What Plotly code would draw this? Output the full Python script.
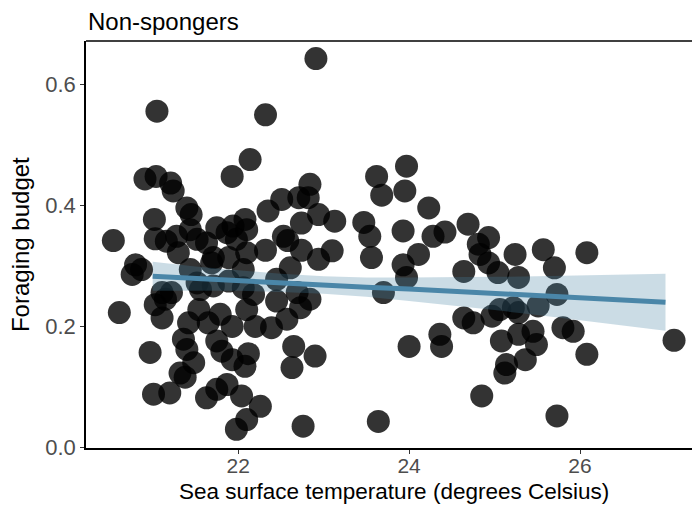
import plotly.graph_objects as go

# Sea surface temperature (x) and foraging budget (y) for non-spongers
sst = [22.91, 21.05, 22.32, 22.14, 23.97, 20.91, 21.04, 21.93, 23.62, 21.21,
       22.84, 21.24, 23.95, 23.68, 22.51, 22.71, 22.82, 21.40, 21.45, 22.35,
       24.23, 22.94, 21.02, 22.08, 23.13, 22.74, 23.47, 24.69, 21.44, 21.75,
       21.94, 21.87, 22.10, 23.93, 24.42, 20.54, 21.03, 21.16, 21.28, 21.52,
       21.63, 21.98, 22.53, 22.58, 23.54, 24.28, 24.93, 22.32, 24.81, 24.11,
       25.24, 25.57, 26.08, 22.10, 22.74, 22.94, 23.10, 23.56, 24.83, 24.93,
       23.93, 25.70, 24.64, 25.04, 25.28, 23.97, 25.73, 25.51, 23.70, 24.00,
       24.36, 24.38, 24.64, 24.75, 24.97, 25.06, 25.22, 25.28, 25.08, 25.28,
       25.45, 25.49, 25.36, 25.14, 25.12, 24.85, 25.73, 25.80, 25.92, 26.08,
       27.10, 23.64, 22.76, 20.80, 20.76, 20.87, 20.61, 20.97, 21.01, 21.20,
       21.11, 21.22, 21.03, 21.11, 21.44, 21.69, 21.52, 21.56, 21.71, 21.89,
       22.06, 22.06, 21.54, 21.42, 21.36, 21.40, 21.48, 21.32, 21.65, 21.79,
       21.93, 21.75, 21.81, 21.93, 22.08, 21.87, 21.75, 21.63, 22.04, 21.98,
       22.10, 22.10, 22.61, 22.45, 22.18, 22.45, 22.69, 22.84, 22.73, 22.57,
       22.39, 22.20, 22.65, 22.90, 22.63, 22.12, 22.26, 21.30, 21.71, 21.89,
       21.15, 21.38]
budget = [0.643, 0.556, 0.550, 0.476, 0.465, 0.444, 0.448, 0.448, 0.448, 0.437,
          0.435, 0.424, 0.424, 0.417, 0.410, 0.413, 0.413, 0.396, 0.385, 0.391,
          0.396, 0.385, 0.377, 0.377, 0.374, 0.371, 0.372, 0.369, 0.360, 0.363,
          0.366, 0.355, 0.360, 0.358, 0.356, 0.342, 0.345, 0.341, 0.349, 0.344,
          0.338, 0.344, 0.349, 0.342, 0.349, 0.349, 0.347, 0.326, 0.336, 0.319,
          0.319, 0.327, 0.322, 0.322, 0.326, 0.311, 0.325, 0.314, 0.319, 0.305,
          0.302, 0.297, 0.291, 0.289, 0.281, 0.281, 0.253, 0.234, 0.256, 0.167,
          0.187, 0.167, 0.214, 0.206, 0.217, 0.228, 0.231, 0.223, 0.176, 0.187,
          0.192, 0.170, 0.145, 0.137, 0.123, 0.085, 0.052, 0.198, 0.192, 0.154,
          0.177, 0.043, 0.035, 0.302, 0.286, 0.294, 0.223, 0.157, 0.088, 0.090,
          0.256, 0.256, 0.236, 0.214, 0.294, 0.305, 0.272, 0.261, 0.267, 0.275,
          0.294, 0.264, 0.228, 0.206, 0.179, 0.162, 0.140, 0.123, 0.206, 0.220,
          0.200, 0.176, 0.159, 0.145, 0.134, 0.104, 0.096, 0.082, 0.085, 0.030,
          0.046, 0.228, 0.297, 0.278, 0.253, 0.242, 0.256, 0.245, 0.231, 0.212,
          0.198, 0.200, 0.167, 0.151, 0.132, 0.155, 0.068, 0.322, 0.314, 0.314,
          0.245, 0.116]

# Linear fit and its confidence band
fit_x = [21.0, 21.5, 22.0, 22.5, 23.0, 23.5, 24.0, 24.5, 25.0, 25.5, 26.0, 26.5, 27.0]
fit_y = [0.283, 0.279, 0.276, 0.272, 0.269, 0.265, 0.262, 0.258, 0.254, 0.251, 0.247, 0.244, 0.240]
fit_lo = [0.259, 0.259, 0.259, 0.257, 0.254, 0.249, 0.242, 0.235, 0.227, 0.219, 0.210, 0.202, 0.193]
fit_hi = [0.307, 0.299, 0.293, 0.287, 0.283, 0.281, 0.281, 0.281, 0.282, 0.283, 0.284, 0.286, 0.287]

x_ticks = [22, 24, 26]
y_ticks = [0.0, 0.2, 0.4, 0.6]

FONT = "Liberation Sans, Arial, Helvetica, sans-serif"

fig = go.Figure()
fig.add_trace(go.Scatter(
    x=sst, y=budget, mode="markers",
    marker=dict(size=23, color="rgba(0,0,0,0.8)", line=dict(width=0)),
    hoverinfo="skip", showlegend=False, cliponaxis=True))
fig.add_trace(go.Scatter(
    x=fit_x + fit_x[::-1], y=fit_hi + fit_lo[::-1],
    fill="toself", fillcolor="rgba(70,130,160,0.28)",
    line=dict(width=0), mode="lines", hoverinfo="skip", showlegend=False))
fig.add_trace(go.Scatter(
    x=fit_x, y=fit_y, mode="lines",
    line=dict(color="#4a86a8", width=5),
    hoverinfo="skip", showlegend=False))

common = dict(showgrid=False, zeroline=False, showline=True,
              linecolor="black", linewidth=1.5,
              ticks="outside", tickwidth=1.2, tickcolor="#333333")

fig.update_layout(
    width=692, height=506,
    margin=dict(l=86, r=0, t=41, b=58),
    plot_bgcolor="white", paper_bgcolor="white",
    xaxis=dict(range=[20.22, 27.31], tickvals=x_ticks, ticklen=4, ticklabelstandoff=-6,
               tickfont=dict(family=FONT, size=21, color="#4d4d4d"), **common),
    yaxis=dict(range=[-0.001, 0.672], tickvals=y_ticks, tickformat=".1f", ticklen=4,
               tickfont=dict(family=FONT, size=22, color="#4d4d4d"), **common),
    shapes=[dict(type="line", xref="paper", yref="paper", x0=0, x1=1, y0=1, y1=1,
                 line=dict(color="black", width=1.5))],
    annotations=[
        dict(text="Non-spongers", xref="paper", yref="paper", x=0, y=1.047,
             xanchor="left", yanchor="middle", showarrow=False,
             font=dict(family=FONT, size=24, color="black")),
        dict(text="Sea surface temperature (degrees Celsius)", xref="paper", yref="paper",
             x=0.509, y=-0.1405, xanchor="center", yanchor="bottom", showarrow=False,
             borderpad=0, font=dict(family=FONT, size=22.5, color="black")),
        dict(text="Foraging budget", xref="paper", yref="paper", textangle=-90,
             x=-0.108, y=0.5, xanchor="center", yanchor="middle", showarrow=False,
             font=dict(family=FONT, size=24, color="black")),
    ],
)

fig.write_html("out.html", config={"displayModeBar": False},
               post_script="document.body.style.margin='0px';document.body.style.overflow='hidden';")
